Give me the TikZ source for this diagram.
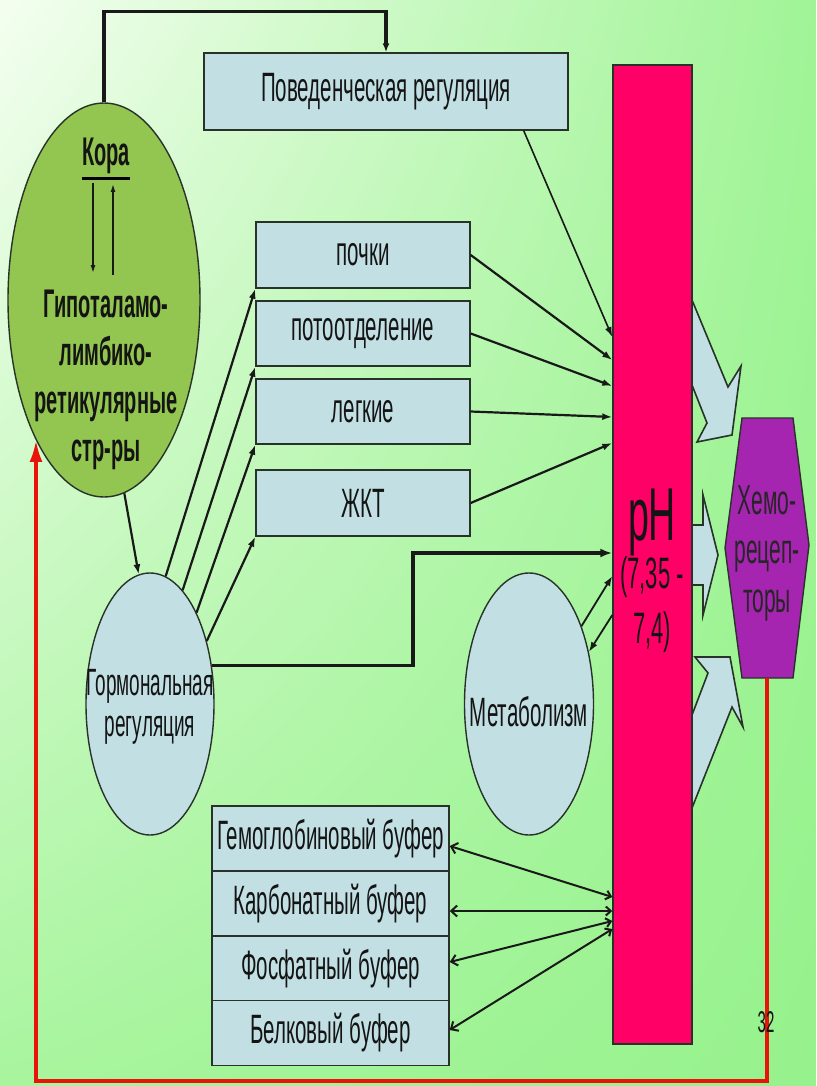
\documentclass[tikz,border=0pt]{standalone}
\usepackage{fontspec}
\setmainfont{Liberation Sans}
\newfontfamily\nf[FakeStretch=0.5]{Liberation Sans}
\usetikzlibrary{arrows.meta,calc,shapes.geometric,shadings}
\definecolor{boxfill}{RGB}{194,224,228}
\definecolor{greenell}{RGB}{146,198,80}
\definecolor{phred}{RGB}{255,0,102}
\definecolor{chemocol}{RGB}{165,36,176}
\definecolor{redline}{RGB}{232,20,10}
\definecolor{edge}{RGB}{40,50,40}
\definecolor{bgA}{RGB}{244,254,240}
\definecolor{bgB}{RGB}{160,244,150}
\definecolor{bgC}{RGB}{168,245,158}
\definecolor{bgD}{RGB}{150,242,140}
\begin{document}
\begin{tikzpicture}[x=1pt,y=-1pt,
  box/.style={draw=edge, line width=1.4pt, fill=boxfill, inner sep=0pt, text=black!92, font=\nf\fontsize{41}{46}\selectfont},
  oval/.style={ellipse, draw=edge, line width=1.4pt, fill=boxfill, inner sep=0pt},
  lbl/.style={inner sep=0pt, text=black!92, font=\nf\fontsize{41}{46}\selectfont, align=center},
  conn/.style={draw=black!90, line width=2.2pt, -{Latex[length=10pt,width=7pt]}},
  fine/.style={draw=black!90, line width=1.4pt, -{Latex[length=8pt,width=5pt]}},
  heavy/.style={draw=black!90, line width=3.4pt, -{Latex[length=12pt,width=9pt]}},
  buf/.style={draw=black!90, line width=2pt, {Straight Barb[length=6pt,width=11pt]}-{Straight Barb[length=5pt,width=9pt]}},
  block/.style={draw=edge, line width=1.6pt, fill=boxfill, line join=miter},
]
\useasboundingbox (0,0) rectangle (816,1086);
\shade[upper left=bgA, upper right=bgB, lower left=bgC, lower right=bgD] (0,0) rectangle (816,1086);

% block arrows towards chemoreceptors
\path[block] (692,300) -- (728,387) -- (741,366) -- (732,435) -- (697,442) -- (707,423) -- (692,385) -- cycle;
\path[block] (692,525) -- (703,525) -- (703,495) -- (718,555) -- (703,615) -- (703,585) -- (692,585) -- cycle;
\path[block] (692,715) -- (708,673) -- (695,657) -- (730,657) -- (743,727) -- (732,707) -- (692,808) -- cycle;

% pH bar
\node[draw=edge, line width=1.4pt, fill=phred, minimum width=79, minimum height=979, inner sep=0pt] (ph) at (652.5,554.5) {};
\node[lbl, anchor=base, font=\nf\fontsize{75}{80}\selectfont] (phl) at (652,540) {pH};
\node[lbl, anchor=base, font=\nf\fontsize{44}{48}\selectfont] (phr1) at (652,588) {(7,35 -};
\node[lbl, anchor=base, font=\nf\fontsize{44}{48}\selectfont] (phr2) at (652,643) {7,4)};

% chemoreceptors
\path[draw=edge, line width=1.4pt, fill=chemocol] (742,418) -- (793,418) -- (809,545) -- (793,678) -- (742,678) -- (725,548) -- cycle;
\coordinate (hexb) at (767,678);
\node[lbl, text=black!85, font=\nf\fontsize{42}{49}\selectfont] (chemo) at (767,553) {Хемо-\\рецеп-\\торы};

% boxes
\node[box, minimum width=364, minimum height=77] (beh) at (386,91.5) {Поведенческая регуляция};
\node[box, minimum width=214, minimum height=66] (kid) at (363,255) {почки};
\node[box, minimum width=214, minimum height=65] (sweat) at (363,333.5) {потоотделение};
\node[box, minimum width=214, minimum height=65] (lung) at (363,411.5) {легкие};
\node[box, minimum width=214, minimum height=66] (git) at (363,503) {ЖКТ};

\node[box, minimum width=237, minimum height=65] (hem) at (330.5,838.5) {Гемоглобиновый буфер};
\node[box, minimum width=237, minimum height=65] (carb) at (330.5,903.5) {Карбонатный буфер};
\node[box, minimum width=237, minimum height=65] (phos) at (330.5,968.5) {Фосфатный буфер};
\node[box, minimum width=237, minimum height=65] (prot) at (330.5,1033) {Белковый буфер};

% ellipses
\node[oval, fill=greenell, minimum width=192, minimum height=394] (cortex) at (104,300) {};
\node[oval, minimum width=128, minimum height=262] (horm) at (150,704) {};
\node[oval, minimum width=129, minimum height=262] (metab) at (529,704) {};

\node[lbl, font=\nf\bfseries\fontsize{40}{48}\selectfont] (kora) at (106,156) {Кора};
\draw[line width=3pt] ($(kora.south west)+(0,4)$) -- ($(kora.south east)+(0,4)$);
\node[lbl, font=\nf\bfseries\fontsize{40}{48}\selectfont] (hyp) at (106,380) {Гипоталамо-\\лимбико-\\ретикулярные\\стр-ры};
\coordinate (ka1) at (93,183);
\coordinate (ka2) at (93,273);
\coordinate (kb1) at (113,275);
\coordinate (kb2) at (113,184);
\draw[fine] (ka1) -- (ka2);
\draw[fine] (kb1) -- (kb2);

\node[lbl, font=\nf\fontsize{38}{41}\selectfont] (hormt) at (150,707) {Гормональная\\регуляция};
\node[lbl] (metabt) at (529,712) {Метаболизм};

% connectors
\draw[draw=black!90, line width=3.2pt, -{Latex[length=9pt,width=7pt]}] (cortex.north) -- ++(0,-91) -| (beh.north);
\draw[conn] (cortex.-84) -- (horm.95);
\draw[conn] (horm.83) -- (kid.south west);
\draw[conn] (horm.74) -- (sweat.south west);
\draw[conn] (horm.63) -- (lung.south west);
\draw[conn] (horm.48) -- (git.south west);
\coordinate (hb) at (413,553);
\draw[heavy] (horm.32) -| (hb) -- (ph.west |- hb);

\draw[conn, line width=1.6pt] ($(beh.south east)+(-45,0)$) -- (ph.west |- 0,337);
\draw[conn] (kid.east) -- (ph.west |- 0,360);
\draw[conn] (sweat.east) -- (ph.west |- 0,386);
\draw[conn] (lung.east) -- (ph.west |- 0,417);
\draw[conn] (git.east) -- (ph.west |- 0,443);

\draw[conn, line width=1.8pt] (metab.56) -- (ph.west |- 0,576);
\draw[conn, line width=1.8pt] (ph.west |- 0,615) -- (metab.41);

\draw[buf] (hem.east |- 0,846) -- (ph.west |- 0,897);
\draw[buf] (carb.east |- 0,911) -- (ph.west |- 0,911);
\draw[buf] (phos.east |- 0,962) -- (ph.west |- 0,921);
\draw[buf] (prot.east |- 0,1030) -- (ph.west |- 0,929);

% feedback line
\coordinate (rc) at (36,1081);
\draw[draw=redline, line width=3.6pt, -{Latex[length=22pt,width=13pt]}] (hexb) |- (rc) -- (rc |- cortex.-116);

\node[lbl, font=\nf\fontsize{30}{32}\selectfont] (pg) at (766,1022) {32};
\end{tikzpicture}
\end{document}
